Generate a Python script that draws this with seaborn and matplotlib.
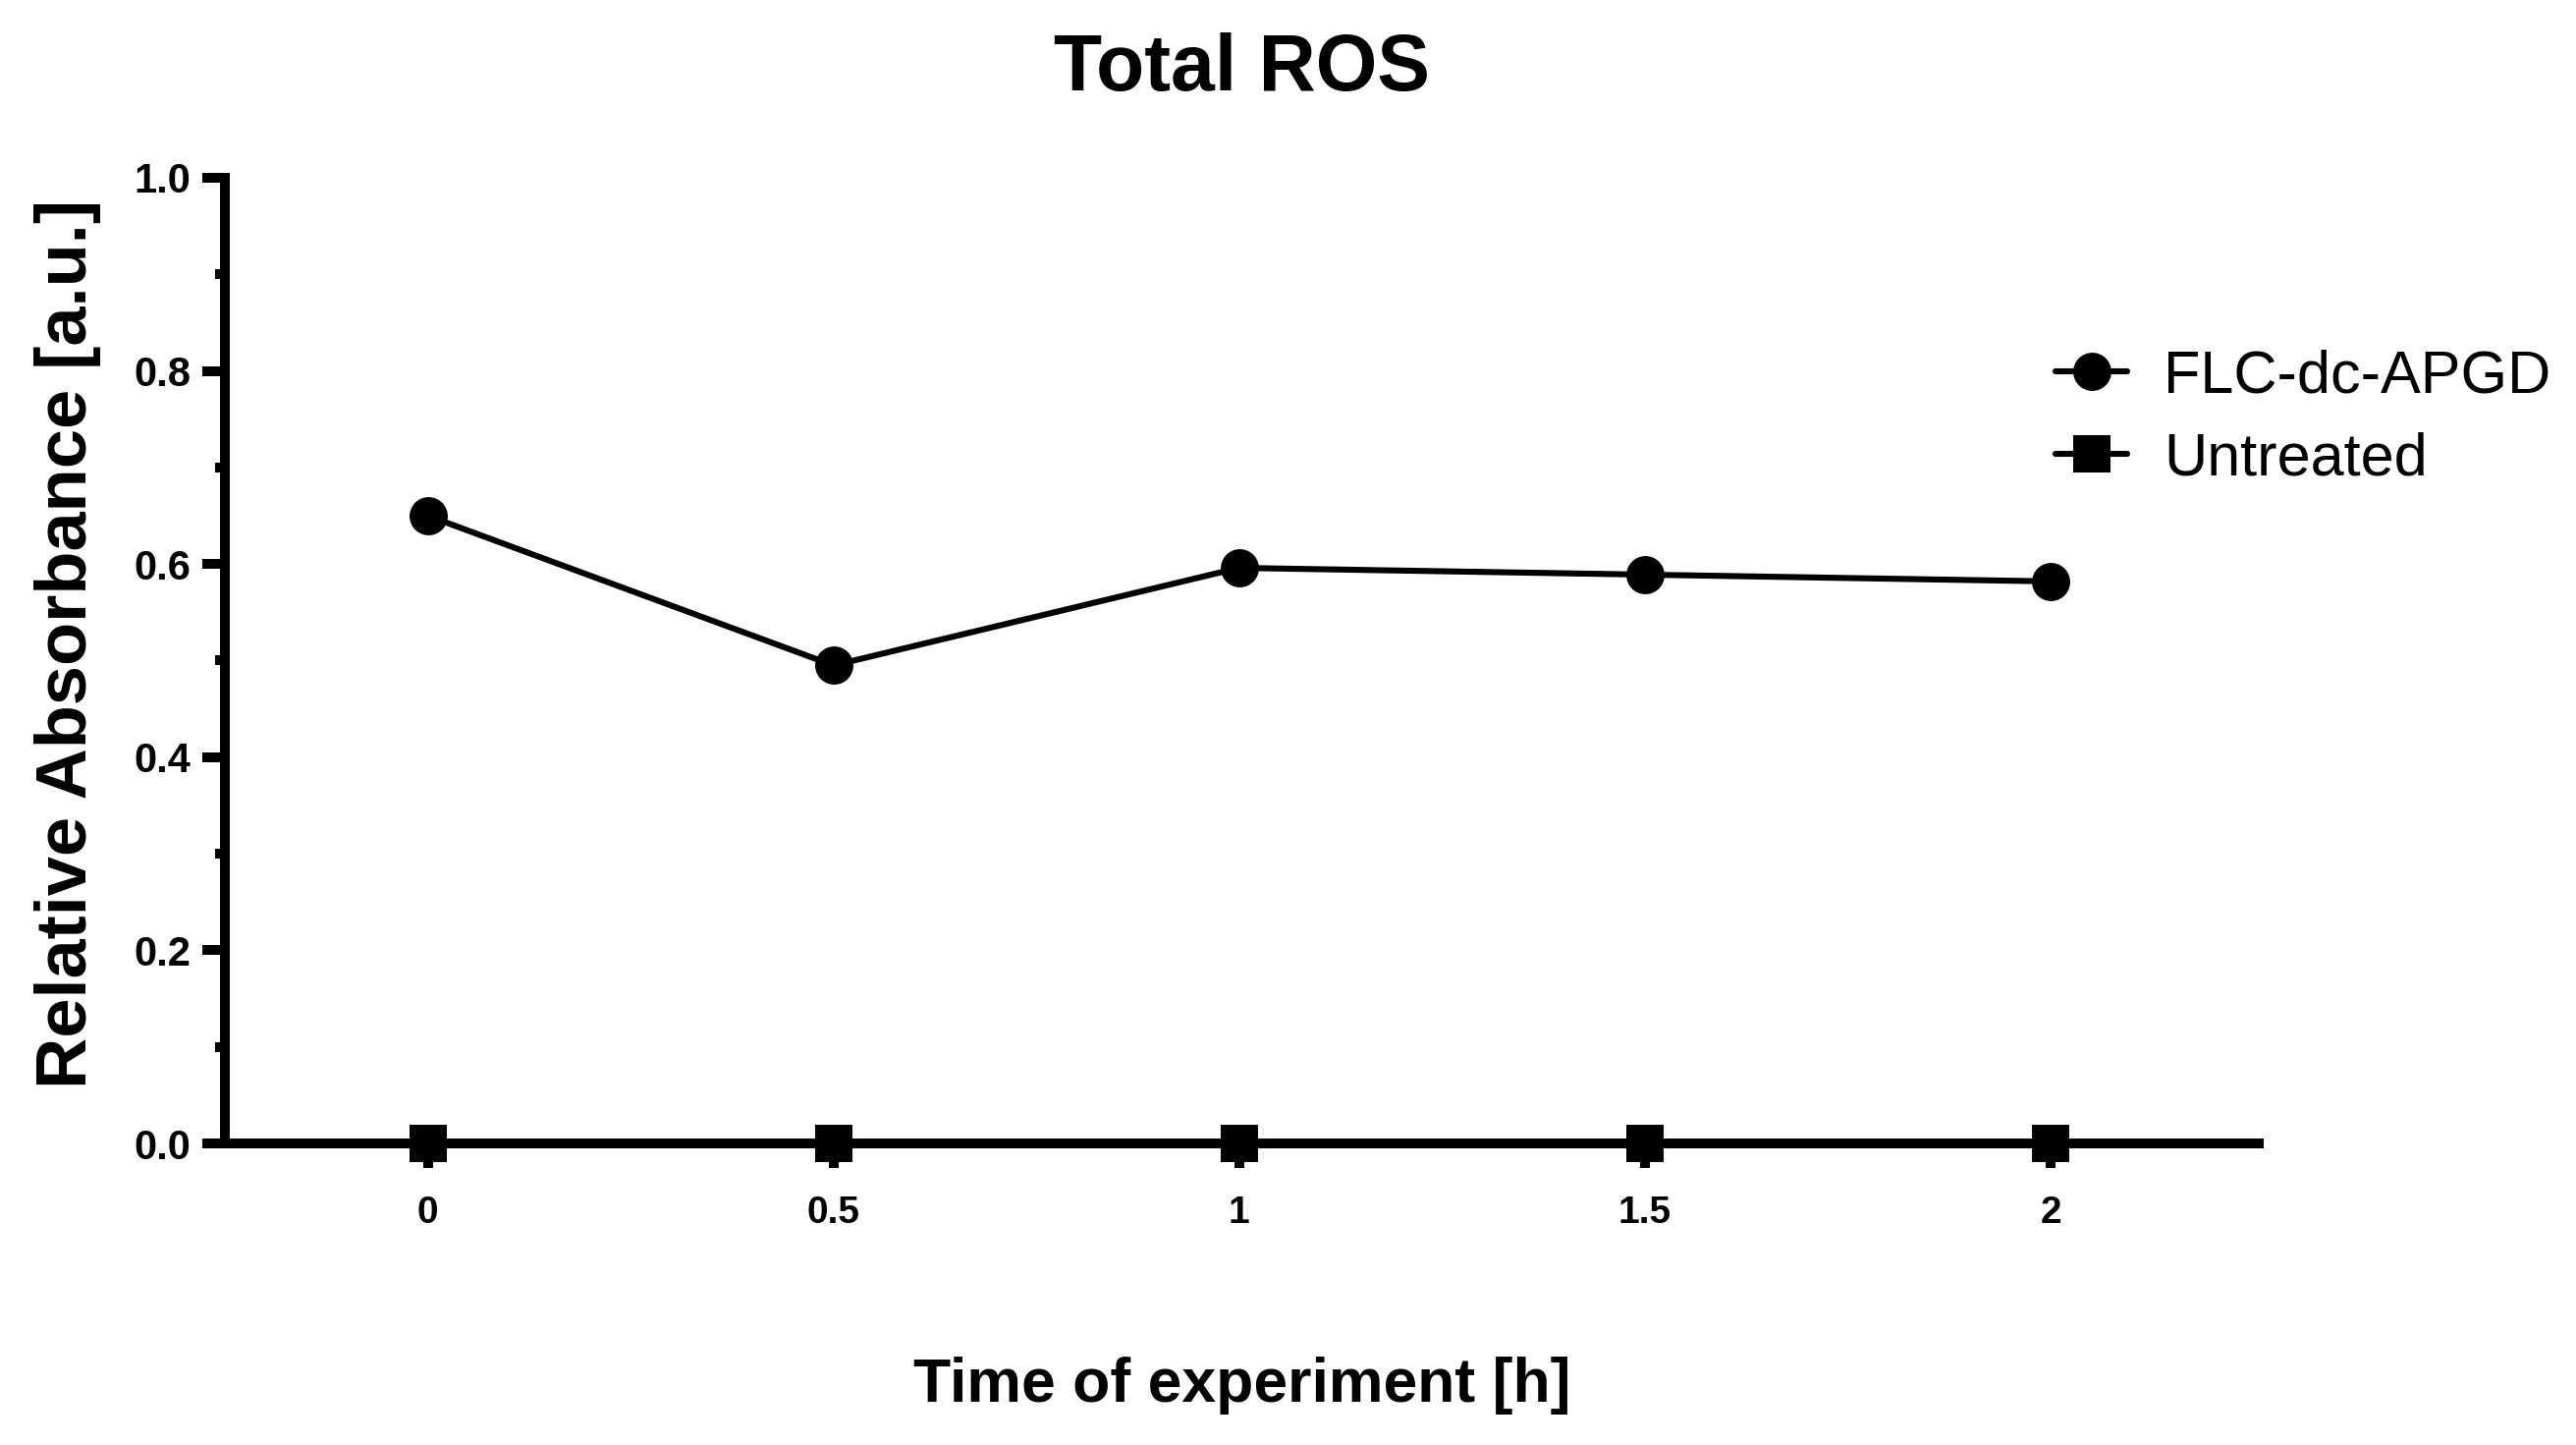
import pandas as pd
import seaborn as sns
import matplotlib.pyplot as plt
from matplotlib.ticker import MultipleLocator

# data
time_h = [0, 0.5, 1, 1.5, 2]
flc_dc_apgd = [0.650, 0.495, 0.596, 0.589, 0.582]
untreated = [0.0, 0.0, 0.0, 0.0, 0.0]
groups = ['FLC-dc-APGD', 'Untreated']

df = pd.DataFrame({
    'time': time_h * 2,
    'value': flc_dc_apgd + untreated,
    'group': [groups[0]] * len(time_h) + [groups[1]] * len(time_h),
})

sns.set_style('ticks')
plt.rcParams['font.family'] = ['Liberation Sans', 'DejaVu Sans']
plt.rcParams['text.color'] = 'black'
plt.rcParams['axes.labelcolor'] = 'black'
plt.rcParams['xtick.color'] = 'black'
plt.rcParams['ytick.color'] = 'black'
plt.rcParams['axes.edgecolor'] = 'black'

fig = plt.figure(figsize=(13.115, 7.355), dpi=200)
ax = fig.add_axes([0.0873, 0.2087, 0.7897, 0.6683])

sns.lineplot(data=df, x='time', y='value', hue='group', style='group',
             palette={groups[0]: 'black', groups[1]: 'black'},
             markers={groups[0]: 'o', groups[1]: 's'}, dashes=False,
             markersize=14, linewidth=2.2, markeredgewidth=0,
             clip_on=False, zorder=5, ax=ax)

ax.set_xlim(-0.25, 2.257)
ax.set_ylim(0, 1.0)
ax.set_xticks(time_h)
ax.set_xticklabels(['0', '0.5', '1', '1.5', '2'])
ax.yaxis.set_major_locator(MultipleLocator(0.2))
ax.yaxis.set_minor_locator(MultipleLocator(0.1))
ax.yaxis.set_major_formatter(plt.FormatStrFormatter('%.1f'))

sns.despine(ax=ax)
for s in ['left', 'bottom']:
    ax.spines[s].set_linewidth(3.6)

ax.tick_params(axis='y', which='major', width=3.6, length=8.4, labelsize=15, pad=4)
ax.tick_params(axis='y', which='minor', width=3.6, length=3.6)
ax.tick_params(axis='x', which='major', width=3.6, length=9, labelsize=14, pad=10)
for lab in ax.get_xticklabels() + ax.get_yticklabels():
    lab.set_fontweight('bold')

ax.set_xlabel('Time of experiment [h]', fontsize=22.5, fontweight='bold', labelpad=46)
ax.set_ylabel('Relative Absorbance [a.u.]', fontsize=26, fontweight='bold')
ax.yaxis.set_label_coords(-0.061, 0.517)
ax.set_title('Total ROS', fontsize=29, fontweight='bold', pad=32)

ax.get_legend().remove()
handles, labels = ax.get_legend_handles_labels()
fig.legend(handles, labels, loc='upper left', bbox_to_anchor=(0.777, 0.796),
           frameon=False, fontsize=22, handlelength=1.2, handletextpad=0.6,
           labelspacing=0.45)

fig.savefig('out.png', dpi=200)
